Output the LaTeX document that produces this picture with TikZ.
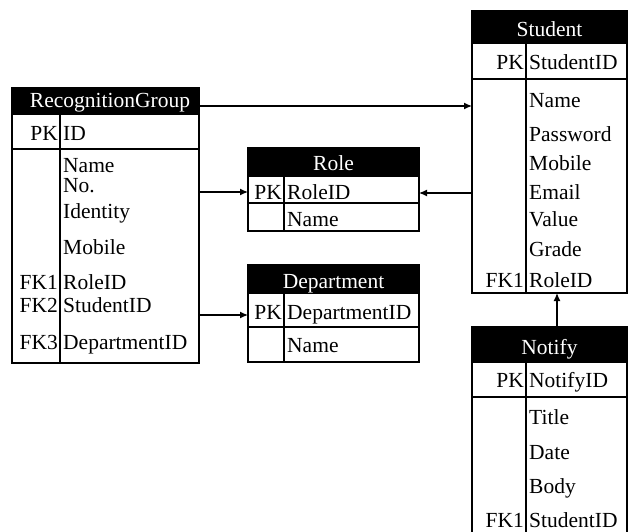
\documentclass[tikz,border=0pt]{standalone}
\usepackage{fontspec}
\setmainfont{Liberation Serif}
\usetikzlibrary{arrows.meta}
\begin{document}
\begin{tikzpicture}[x=1pt,y=-1pt,
  every node/.style={font=\fontsize{21.5}{24}\selectfont},
  tbl/.style={draw, line width=1.3pt, inner sep=0pt, outer sep=0pt, anchor=north west},
  hdr/.style={draw, fill=black, line width=1.3pt, inner sep=0pt, outer sep=0pt, anchor=north west},
  htext/.style={text=white, anchor=base, inner sep=0pt},
  key/.style={anchor=base east, inner sep=0pt},
  fld/.style={anchor=base west, inner sep=0pt},
  rule/.style={line width=1.3pt},
  link/.style={line width=1.3pt, -{Latex[length=8pt,width=7pt]}}
]
\useasboundingbox (0,0) rectangle (629,532);

% ---------- RecognitionGroup ----------
\node[tbl, minimum width=187pt, minimum height=275pt] (rg) at (12,88) {};
\node[hdr, minimum width=187pt, minimum height=26pt] (rgh) at (12,88) {};
\node[htext] (rgt) at (110,108) {RecognitionGroup};
\draw[rule] (12,149) -- (199,149);
\draw[rule] (60,114) -- (60,363);
\node[key] (rgk1) at (58,141) {PK};
\node[fld] (rgf1) at (63,141) {ID};
\node[fld] (rgf2) at (63,172) {Name};
\node[fld] (rgf3) at (63,192) {No.};
\node[fld] (rgf4) at (63,218) {Identity};
\node[fld] (rgf5) at (63,254) {Mobile};
\node[key] (rgk6) at (58,289) {FK1};
\node[fld] (rgf6) at (63,289) {RoleID};
\node[key] (rgk7) at (58,312) {FK2};
\node[fld] (rgf7) at (63,312) {StudentID};
\node[key] (rgk8) at (58,349) {FK3};
\node[fld] (rgf8) at (63,349) {DepartmentID};

% ---------- Role ----------
\node[tbl, minimum width=171pt, minimum height=83pt] (ro) at (248,148) {};
\node[hdr, minimum width=171pt, minimum height=28pt] (roh) at (248,148) {};
\node[htext] (rot) at (333.5,171) {Role};
\draw[rule] (248,203) -- (419,203);
\draw[rule] (284,176) -- (284,231);
\node[key] (rok1) at (282,199) {PK};
\node[fld] (rof1) at (287,199) {RoleID};
\node[fld] (rof2) at (287,226) {Name};

% ---------- Department ----------
\node[tbl, minimum width=171pt, minimum height=97pt] (de) at (248,265) {};
\node[hdr, minimum width=171pt, minimum height=28pt] (deh) at (248,265) {};
\node[htext] (det) at (333.5,288) {Department};
\draw[rule] (248,327) -- (419,327);
\draw[rule] (284,293) -- (284,362);
\node[key] (dek1) at (282,319) {PK};
\node[fld] (def1) at (287,319) {DepartmentID};
\node[fld] (def2) at (287,352) {Name};

% ---------- Student ----------
\node[tbl, minimum width=155pt, minimum height=282pt] (st) at (472,11) {};
\node[hdr, minimum width=155pt, minimum height=32pt] (sth) at (472,11) {};
\node[htext] (stt) at (549.5,37) {Student};
\draw[rule] (472,79) -- (627,79);
\draw[rule] (526,43) -- (526,293);
\node[key] (stk1) at (524,70) {PK};
\node[fld] (stf1) at (529,70) {StudentID};
\node[fld] (stf2) at (529,108) {Name};
\node[fld] (stf3) at (529,142) {Password};
\node[fld] (stf4) at (529,171) {Mobile};
\node[fld] (stf5) at (529,199) {Email};
\node[fld] (stf6) at (529,226) {Value};
\node[fld] (stf7) at (529,256) {Grade};
\node[key] (stk8) at (524,287) {FK1};
\node[fld] (stf8) at (529,287) {RoleID};

% ---------- Notify (runs past the lower edge) ----------
\node[tbl, minimum width=155pt, minimum height=223pt] (nt) at (472,327) {};
\node[hdr, minimum width=155pt, minimum height=35pt] (nth) at (472,327) {};
\node[htext] (ntt) at (549.5,354) {Notify};
\draw[rule] (472,397) -- (627,397);
\draw[rule] (526,362) -- (526,550);
\node[key] (ntk1) at (524,387) {PK};
\node[fld] (ntf1) at (529,387) {NotifyID};
\node[fld] (ntf2) at (529,424) {Title};
\node[fld] (ntf3) at (529,459) {Date};
\node[fld] (ntf4) at (529,493) {Body};
\node[key] (ntk5) at (524,527) {FK1};
\node[fld] (ntf5) at (529,527) {StudentID};

% ---------- relationships ----------
\coordinate (yst) at (0,106);
\coordinate (yro) at (0,192);
\coordinate (yro2) at (0,193);
\coordinate (yde) at (0,315);
\coordinate (xnt) at (557,0);
\draw[link] (rg.east |- yst) -- (st.west |- yst);
\draw[link] (rg.east |- yro) -- (ro.west |- yro);
\draw[link] (rg.east |- yde) -- (de.west |- yde);
\draw[link] (st.west |- yro2) -- (ro.east |- yro2);
\draw[link] (xnt |- nt.north) -- (xnt |- st.south);
\end{tikzpicture}
\end{document}
